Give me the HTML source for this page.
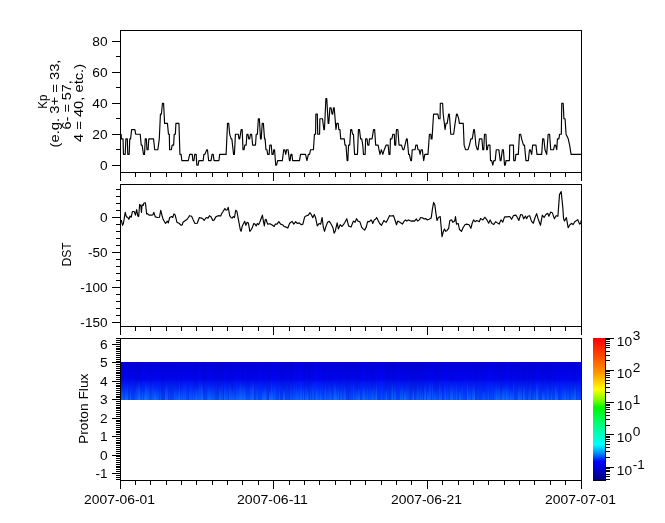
<!DOCTYPE html>
<html><head><meta charset="utf-8"><style>
html,body{margin:0;padding:0;background:#fff;width:665px;height:523px;overflow:hidden}
svg{display:block;will-change:transform}
text{font-family:"Liberation Sans",sans-serif}
</style></head><body>
<svg width="665" height="523" viewBox="0 0 665 523">
<defs>
<linearGradient id="cbg" x1="0" y1="0" x2="0" y2="1">
<stop offset="0" stop-color="#ff0000"/>
<stop offset="0.12" stop-color="#ff4400"/>
<stop offset="0.25" stop-color="#ff9900"/>
<stop offset="0.36" stop-color="#ffff00"/>
<stop offset="0.43" stop-color="#88ff00"/>
<stop offset="0.49" stop-color="#00f800"/>
<stop offset="0.62" stop-color="#00ff88"/>
<stop offset="0.75" stop-color="#00ffff"/>
<stop offset="0.81" stop-color="#0090ff"/>
<stop offset="0.87" stop-color="#0000ff"/>
<stop offset="1" stop-color="#000080"/>
</linearGradient>
<linearGradient id="bandg" x1="0" y1="0" x2="0" y2="1">
<stop offset="0" stop-color="#0000e0"/>
<stop offset="0.45" stop-color="#0006f2"/>
<stop offset="0.55" stop-color="#0018f8"/>
<stop offset="1" stop-color="#0048ff"/>
</linearGradient>
<linearGradient id="bandh" x1="0" y1="0" x2="0" y2="1">
<stop offset="0" stop-color="#0040ff" stop-opacity="0"/>
<stop offset="0.5" stop-color="#1070ff" stop-opacity="0.7"/>
<stop offset="1" stop-color="#2090ff"/>
</linearGradient>
</defs>
<rect width="665" height="523" fill="#fff"/>
<g shape-rendering="crispEdges">
<rect x="121" y="362" width="460" height="38" fill="url(#bandg)"/><rect x="121" y="362" width="2" height="38" fill="#000070" opacity="0.12"/><rect x="123" y="362" width="2" height="38" fill="#000070" opacity="0.06"/><rect x="125" y="362" width="2" height="38" fill="#000070" opacity="0.03"/><rect x="127" y="362" width="2" height="38" fill="#000070" opacity="0.07"/><rect x="129" y="362" width="2" height="38" fill="#000070" opacity="0.11"/><rect x="131" y="362" width="1" height="38" fill="#000070" opacity="0.06"/><rect x="132" y="362" width="1" height="38" fill="#000070" opacity="0.01"/><rect x="133" y="362" width="3" height="38" fill="#000070" opacity="0.09"/><rect x="136" y="362" width="2" height="38" fill="#000070" opacity="0.14"/><rect x="138" y="362" width="2" height="38" fill="#000070" opacity="0.09"/><rect x="140" y="362" width="2" height="38" fill="#000070" opacity="0.09"/><rect x="142" y="362" width="2" height="38" fill="#000070" opacity="0.00"/><rect x="144" y="362" width="2" height="38" fill="#000070" opacity="0.01"/><rect x="146" y="362" width="1" height="38" fill="#000070" opacity="0.03"/><rect x="147" y="362" width="1" height="38" fill="#000070" opacity="0.08"/><rect x="148" y="362" width="2" height="38" fill="#000070" opacity="0.05"/><rect x="150" y="362" width="2" height="38" fill="#000070" opacity="0.12"/><rect x="152" y="362" width="2" height="38" fill="#000070" opacity="0.03"/><rect x="154" y="362" width="1" height="38" fill="#000070" opacity="0.07"/><rect x="155" y="362" width="3" height="38" fill="#000070" opacity="0.01"/><rect x="158" y="362" width="3" height="38" fill="#000070" opacity="0.04"/><rect x="161" y="362" width="2" height="38" fill="#000070" opacity="0.14"/><rect x="163" y="362" width="1" height="38" fill="#000070" opacity="0.10"/><rect x="164" y="362" width="1" height="38" fill="#000070" opacity="0.11"/><rect x="165" y="362" width="2" height="38" fill="#000070" opacity="0.04"/><rect x="167" y="362" width="1" height="38" fill="#000070" opacity="0.08"/><rect x="168" y="362" width="1" height="38" fill="#000070" opacity="0.06"/><rect x="169" y="362" width="1" height="38" fill="#000070" opacity="0.05"/><rect x="170" y="362" width="1" height="38" fill="#000070" opacity="0.12"/><rect x="171" y="362" width="1" height="38" fill="#000070" opacity="0.03"/><rect x="172" y="362" width="1" height="38" fill="#000070" opacity="0.07"/><rect x="173" y="362" width="3" height="38" fill="#000070" opacity="0.06"/><rect x="176" y="362" width="1" height="38" fill="#000070" opacity="0.08"/><rect x="177" y="362" width="1" height="38" fill="#000070" opacity="0.11"/><rect x="178" y="362" width="1" height="38" fill="#000070" opacity="0.05"/><rect x="179" y="362" width="1" height="38" fill="#000070" opacity="0.05"/><rect x="180" y="362" width="2" height="38" fill="#000070" opacity="0.11"/><rect x="182" y="362" width="1" height="38" fill="#000070" opacity="0.02"/><rect x="183" y="362" width="3" height="38" fill="#000070" opacity="0.01"/><rect x="186" y="362" width="1" height="38" fill="#000070" opacity="0.07"/><rect x="187" y="362" width="2" height="38" fill="#000070" opacity="0.02"/><rect x="189" y="362" width="2" height="38" fill="#000070" opacity="0.03"/><rect x="191" y="362" width="2" height="38" fill="#000070" opacity="0.03"/><rect x="193" y="362" width="3" height="38" fill="#000070" opacity="0.11"/><rect x="196" y="362" width="2" height="38" fill="#000070" opacity="0.09"/><rect x="198" y="362" width="1" height="38" fill="#000070" opacity="0.06"/><rect x="199" y="362" width="1" height="38" fill="#000070" opacity="0.00"/><rect x="200" y="362" width="2" height="38" fill="#000070" opacity="0.04"/><rect x="202" y="362" width="1" height="38" fill="#000070" opacity="0.03"/><rect x="203" y="362" width="2" height="38" fill="#000070" opacity="0.14"/><rect x="205" y="362" width="2" height="38" fill="#000070" opacity="0.09"/><rect x="207" y="362" width="1" height="38" fill="#000070" opacity="0.01"/><rect x="208" y="362" width="1" height="38" fill="#000070" opacity="0.03"/><rect x="209" y="362" width="1" height="38" fill="#000070" opacity="0.00"/><rect x="210" y="362" width="2" height="38" fill="#000070" opacity="0.05"/><rect x="212" y="362" width="1" height="38" fill="#000070" opacity="0.05"/><rect x="213" y="362" width="1" height="38" fill="#000070" opacity="0.01"/><rect x="214" y="362" width="2" height="38" fill="#000070" opacity="0.09"/><rect x="216" y="362" width="1" height="38" fill="#000070" opacity="0.08"/><rect x="217" y="362" width="1" height="38" fill="#000070" opacity="0.09"/><rect x="218" y="362" width="1" height="38" fill="#000070" opacity="0.13"/><rect x="219" y="362" width="2" height="38" fill="#000070" opacity="0.12"/><rect x="221" y="362" width="1" height="38" fill="#000070" opacity="0.12"/><rect x="222" y="362" width="1" height="38" fill="#000070" opacity="0.09"/><rect x="223" y="362" width="1" height="38" fill="#000070" opacity="0.13"/><rect x="224" y="362" width="2" height="38" fill="#000070" opacity="0.03"/><rect x="226" y="362" width="1" height="38" fill="#000070" opacity="0.02"/><rect x="227" y="362" width="3" height="38" fill="#000070" opacity="0.13"/><rect x="230" y="362" width="1" height="38" fill="#000070" opacity="0.10"/><rect x="231" y="362" width="2" height="38" fill="#000070" opacity="0.12"/><rect x="233" y="362" width="2" height="38" fill="#000070" opacity="0.01"/><rect x="235" y="362" width="1" height="38" fill="#000070" opacity="0.01"/><rect x="236" y="362" width="1" height="38" fill="#000070" opacity="0.07"/><rect x="237" y="362" width="1" height="38" fill="#000070" opacity="0.03"/><rect x="238" y="362" width="3" height="38" fill="#000070" opacity="0.05"/><rect x="241" y="362" width="2" height="38" fill="#000070" opacity="0.12"/><rect x="243" y="362" width="2" height="38" fill="#000070" opacity="0.07"/><rect x="245" y="362" width="2" height="38" fill="#000070" opacity="0.02"/><rect x="247" y="362" width="3" height="38" fill="#000070" opacity="0.14"/><rect x="250" y="362" width="1" height="38" fill="#000070" opacity="0.03"/><rect x="251" y="362" width="2" height="38" fill="#000070" opacity="0.09"/><rect x="253" y="362" width="2" height="38" fill="#000070" opacity="0.09"/><rect x="255" y="362" width="1" height="38" fill="#000070" opacity="0.03"/><rect x="256" y="362" width="1" height="38" fill="#000070" opacity="0.10"/><rect x="257" y="362" width="1" height="38" fill="#000070" opacity="0.04"/><rect x="258" y="362" width="2" height="38" fill="#000070" opacity="0.03"/><rect x="260" y="362" width="1" height="38" fill="#000070" opacity="0.02"/><rect x="261" y="362" width="1" height="38" fill="#000070" opacity="0.07"/><rect x="262" y="362" width="1" height="38" fill="#000070" opacity="0.01"/><rect x="263" y="362" width="1" height="38" fill="#000070" opacity="0.12"/><rect x="264" y="362" width="1" height="38" fill="#000070" opacity="0.09"/><rect x="265" y="362" width="3" height="38" fill="#000070" opacity="0.07"/><rect x="268" y="362" width="1" height="38" fill="#000070" opacity="0.08"/><rect x="269" y="362" width="1" height="38" fill="#000070" opacity="0.07"/><rect x="270" y="362" width="1" height="38" fill="#000070" opacity="0.10"/><rect x="271" y="362" width="1" height="38" fill="#000070" opacity="0.00"/><rect x="272" y="362" width="3" height="38" fill="#000070" opacity="0.01"/><rect x="275" y="362" width="1" height="38" fill="#000070" opacity="0.10"/><rect x="276" y="362" width="1" height="38" fill="#000070" opacity="0.02"/><rect x="277" y="362" width="1" height="38" fill="#000070" opacity="0.01"/><rect x="278" y="362" width="2" height="38" fill="#000070" opacity="0.05"/><rect x="280" y="362" width="1" height="38" fill="#000070" opacity="0.13"/><rect x="281" y="362" width="3" height="38" fill="#000070" opacity="0.10"/><rect x="284" y="362" width="1" height="38" fill="#000070" opacity="0.11"/><rect x="285" y="362" width="1" height="38" fill="#000070" opacity="0.05"/><rect x="286" y="362" width="3" height="38" fill="#000070" opacity="0.07"/><rect x="289" y="362" width="1" height="38" fill="#000070" opacity="0.12"/><rect x="290" y="362" width="2" height="38" fill="#000070" opacity="0.13"/><rect x="292" y="362" width="1" height="38" fill="#000070" opacity="0.12"/><rect x="293" y="362" width="2" height="38" fill="#000070" opacity="0.00"/><rect x="295" y="362" width="3" height="38" fill="#000070" opacity="0.05"/><rect x="298" y="362" width="2" height="38" fill="#000070" opacity="0.00"/><rect x="300" y="362" width="1" height="38" fill="#000070" opacity="0.01"/><rect x="301" y="362" width="3" height="38" fill="#000070" opacity="0.02"/><rect x="304" y="362" width="1" height="38" fill="#000070" opacity="0.12"/><rect x="305" y="362" width="3" height="38" fill="#000070" opacity="0.05"/><rect x="308" y="362" width="3" height="38" fill="#000070" opacity="0.10"/><rect x="311" y="362" width="2" height="38" fill="#000070" opacity="0.06"/><rect x="313" y="362" width="2" height="38" fill="#000070" opacity="0.01"/><rect x="315" y="362" width="2" height="38" fill="#000070" opacity="0.00"/><rect x="317" y="362" width="2" height="38" fill="#000070" opacity="0.01"/><rect x="319" y="362" width="1" height="38" fill="#000070" opacity="0.03"/><rect x="320" y="362" width="3" height="38" fill="#000070" opacity="0.02"/><rect x="323" y="362" width="2" height="38" fill="#000070" opacity="0.09"/><rect x="325" y="362" width="2" height="38" fill="#000070" opacity="0.04"/><rect x="327" y="362" width="1" height="38" fill="#000070" opacity="0.05"/><rect x="328" y="362" width="1" height="38" fill="#000070" opacity="0.09"/><rect x="329" y="362" width="1" height="38" fill="#000070" opacity="0.07"/><rect x="330" y="362" width="1" height="38" fill="#000070" opacity="0.09"/><rect x="331" y="362" width="2" height="38" fill="#000070" opacity="0.07"/><rect x="333" y="362" width="1" height="38" fill="#000070" opacity="0.05"/><rect x="334" y="362" width="3" height="38" fill="#000070" opacity="0.04"/><rect x="337" y="362" width="3" height="38" fill="#000070" opacity="0.06"/><rect x="340" y="362" width="1" height="38" fill="#000070" opacity="0.12"/><rect x="341" y="362" width="2" height="38" fill="#000070" opacity="0.03"/><rect x="343" y="362" width="1" height="38" fill="#000070" opacity="0.03"/><rect x="344" y="362" width="1" height="38" fill="#000070" opacity="0.07"/><rect x="345" y="362" width="1" height="38" fill="#000070" opacity="0.10"/><rect x="346" y="362" width="1" height="38" fill="#000070" opacity="0.12"/><rect x="347" y="362" width="1" height="38" fill="#000070" opacity="0.06"/><rect x="348" y="362" width="1" height="38" fill="#000070" opacity="0.13"/><rect x="349" y="362" width="2" height="38" fill="#000070" opacity="0.05"/><rect x="351" y="362" width="2" height="38" fill="#000070" opacity="0.07"/><rect x="353" y="362" width="1" height="38" fill="#000070" opacity="0.10"/><rect x="354" y="362" width="2" height="38" fill="#000070" opacity="0.06"/><rect x="356" y="362" width="1" height="38" fill="#000070" opacity="0.12"/><rect x="357" y="362" width="1" height="38" fill="#000070" opacity="0.12"/><rect x="358" y="362" width="1" height="38" fill="#000070" opacity="0.09"/><rect x="359" y="362" width="1" height="38" fill="#000070" opacity="0.08"/><rect x="360" y="362" width="1" height="38" fill="#000070" opacity="0.09"/><rect x="361" y="362" width="2" height="38" fill="#000070" opacity="0.00"/><rect x="363" y="362" width="1" height="38" fill="#000070" opacity="0.06"/><rect x="364" y="362" width="1" height="38" fill="#000070" opacity="0.00"/><rect x="365" y="362" width="1" height="38" fill="#000070" opacity="0.03"/><rect x="366" y="362" width="1" height="38" fill="#000070" opacity="0.11"/><rect x="367" y="362" width="3" height="38" fill="#000070" opacity="0.02"/><rect x="370" y="362" width="1" height="38" fill="#000070" opacity="0.09"/><rect x="371" y="362" width="3" height="38" fill="#000070" opacity="0.09"/><rect x="374" y="362" width="1" height="38" fill="#000070" opacity="0.13"/><rect x="375" y="362" width="3" height="38" fill="#000070" opacity="0.03"/><rect x="378" y="362" width="2" height="38" fill="#000070" opacity="0.04"/><rect x="380" y="362" width="3" height="38" fill="#000070" opacity="0.00"/><rect x="383" y="362" width="2" height="38" fill="#000070" opacity="0.07"/><rect x="385" y="362" width="1" height="38" fill="#000070" opacity="0.03"/><rect x="386" y="362" width="1" height="38" fill="#000070" opacity="0.11"/><rect x="387" y="362" width="2" height="38" fill="#000070" opacity="0.10"/><rect x="389" y="362" width="2" height="38" fill="#000070" opacity="0.07"/><rect x="391" y="362" width="1" height="38" fill="#000070" opacity="0.06"/><rect x="392" y="362" width="3" height="38" fill="#000070" opacity="0.13"/><rect x="395" y="362" width="1" height="38" fill="#000070" opacity="0.06"/><rect x="396" y="362" width="3" height="38" fill="#000070" opacity="0.05"/><rect x="399" y="362" width="2" height="38" fill="#000070" opacity="0.06"/><rect x="401" y="362" width="3" height="38" fill="#000070" opacity="0.12"/><rect x="404" y="362" width="1" height="38" fill="#000070" opacity="0.05"/><rect x="405" y="362" width="2" height="38" fill="#000070" opacity="0.09"/><rect x="407" y="362" width="2" height="38" fill="#000070" opacity="0.11"/><rect x="409" y="362" width="1" height="38" fill="#000070" opacity="0.06"/><rect x="410" y="362" width="3" height="38" fill="#000070" opacity="0.14"/><rect x="413" y="362" width="1" height="38" fill="#000070" opacity="0.10"/><rect x="414" y="362" width="3" height="38" fill="#000070" opacity="0.13"/><rect x="417" y="362" width="1" height="38" fill="#000070" opacity="0.03"/><rect x="418" y="362" width="2" height="38" fill="#000070" opacity="0.14"/><rect x="420" y="362" width="1" height="38" fill="#000070" opacity="0.08"/><rect x="421" y="362" width="1" height="38" fill="#000070" opacity="0.04"/><rect x="422" y="362" width="3" height="38" fill="#000070" opacity="0.12"/><rect x="425" y="362" width="1" height="38" fill="#000070" opacity="0.07"/><rect x="426" y="362" width="1" height="38" fill="#000070" opacity="0.06"/><rect x="427" y="362" width="2" height="38" fill="#000070" opacity="0.06"/><rect x="429" y="362" width="1" height="38" fill="#000070" opacity="0.07"/><rect x="430" y="362" width="1" height="38" fill="#000070" opacity="0.03"/><rect x="431" y="362" width="1" height="38" fill="#000070" opacity="0.06"/><rect x="432" y="362" width="1" height="38" fill="#000070" opacity="0.02"/><rect x="433" y="362" width="1" height="38" fill="#000070" opacity="0.10"/><rect x="434" y="362" width="1" height="38" fill="#000070" opacity="0.07"/><rect x="435" y="362" width="2" height="38" fill="#000070" opacity="0.13"/><rect x="437" y="362" width="2" height="38" fill="#000070" opacity="0.12"/><rect x="439" y="362" width="3" height="38" fill="#000070" opacity="0.06"/><rect x="442" y="362" width="2" height="38" fill="#000070" opacity="0.08"/><rect x="444" y="362" width="3" height="38" fill="#000070" opacity="0.01"/><rect x="447" y="362" width="1" height="38" fill="#000070" opacity="0.06"/><rect x="448" y="362" width="2" height="38" fill="#000070" opacity="0.04"/><rect x="450" y="362" width="3" height="38" fill="#000070" opacity="0.08"/><rect x="453" y="362" width="1" height="38" fill="#000070" opacity="0.07"/><rect x="454" y="362" width="2" height="38" fill="#000070" opacity="0.04"/><rect x="456" y="362" width="3" height="38" fill="#000070" opacity="0.05"/><rect x="459" y="362" width="2" height="38" fill="#000070" opacity="0.03"/><rect x="461" y="362" width="1" height="38" fill="#000070" opacity="0.14"/><rect x="462" y="362" width="2" height="38" fill="#000070" opacity="0.04"/><rect x="464" y="362" width="2" height="38" fill="#000070" opacity="0.03"/><rect x="466" y="362" width="2" height="38" fill="#000070" opacity="0.02"/><rect x="468" y="362" width="1" height="38" fill="#000070" opacity="0.08"/><rect x="469" y="362" width="1" height="38" fill="#000070" opacity="0.08"/><rect x="470" y="362" width="1" height="38" fill="#000070" opacity="0.07"/><rect x="471" y="362" width="2" height="38" fill="#000070" opacity="0.08"/><rect x="473" y="362" width="2" height="38" fill="#000070" opacity="0.02"/><rect x="475" y="362" width="1" height="38" fill="#000070" opacity="0.10"/><rect x="476" y="362" width="1" height="38" fill="#000070" opacity="0.13"/><rect x="477" y="362" width="2" height="38" fill="#000070" opacity="0.06"/><rect x="479" y="362" width="2" height="38" fill="#000070" opacity="0.04"/><rect x="481" y="362" width="2" height="38" fill="#000070" opacity="0.07"/><rect x="483" y="362" width="1" height="38" fill="#000070" opacity="0.06"/><rect x="484" y="362" width="2" height="38" fill="#000070" opacity="0.07"/><rect x="486" y="362" width="1" height="38" fill="#000070" opacity="0.03"/><rect x="487" y="362" width="2" height="38" fill="#000070" opacity="0.00"/><rect x="489" y="362" width="1" height="38" fill="#000070" opacity="0.02"/><rect x="490" y="362" width="1" height="38" fill="#000070" opacity="0.00"/><rect x="491" y="362" width="1" height="38" fill="#000070" opacity="0.03"/><rect x="492" y="362" width="3" height="38" fill="#000070" opacity="0.04"/><rect x="495" y="362" width="3" height="38" fill="#000070" opacity="0.05"/><rect x="498" y="362" width="2" height="38" fill="#000070" opacity="0.07"/><rect x="500" y="362" width="2" height="38" fill="#000070" opacity="0.10"/><rect x="502" y="362" width="1" height="38" fill="#000070" opacity="0.12"/><rect x="503" y="362" width="2" height="38" fill="#000070" opacity="0.04"/><rect x="505" y="362" width="1" height="38" fill="#000070" opacity="0.10"/><rect x="506" y="362" width="2" height="38" fill="#000070" opacity="0.00"/><rect x="508" y="362" width="3" height="38" fill="#000070" opacity="0.06"/><rect x="511" y="362" width="2" height="38" fill="#000070" opacity="0.09"/><rect x="513" y="362" width="2" height="38" fill="#000070" opacity="0.03"/><rect x="515" y="362" width="3" height="38" fill="#000070" opacity="0.07"/><rect x="518" y="362" width="1" height="38" fill="#000070" opacity="0.07"/><rect x="519" y="362" width="2" height="38" fill="#000070" opacity="0.09"/><rect x="521" y="362" width="1" height="38" fill="#000070" opacity="0.03"/><rect x="522" y="362" width="3" height="38" fill="#000070" opacity="0.09"/><rect x="525" y="362" width="1" height="38" fill="#000070" opacity="0.13"/><rect x="526" y="362" width="1" height="38" fill="#000070" opacity="0.08"/><rect x="527" y="362" width="1" height="38" fill="#000070" opacity="0.03"/><rect x="528" y="362" width="1" height="38" fill="#000070" opacity="0.12"/><rect x="529" y="362" width="1" height="38" fill="#000070" opacity="0.12"/><rect x="530" y="362" width="1" height="38" fill="#000070" opacity="0.10"/><rect x="531" y="362" width="1" height="38" fill="#000070" opacity="0.05"/><rect x="532" y="362" width="2" height="38" fill="#000070" opacity="0.12"/><rect x="534" y="362" width="2" height="38" fill="#000070" opacity="0.08"/><rect x="536" y="362" width="3" height="38" fill="#000070" opacity="0.02"/><rect x="539" y="362" width="2" height="38" fill="#000070" opacity="0.09"/><rect x="541" y="362" width="1" height="38" fill="#000070" opacity="0.01"/><rect x="542" y="362" width="2" height="38" fill="#000070" opacity="0.10"/><rect x="544" y="362" width="1" height="38" fill="#000070" opacity="0.02"/><rect x="545" y="362" width="2" height="38" fill="#000070" opacity="0.09"/><rect x="547" y="362" width="1" height="38" fill="#000070" opacity="0.07"/><rect x="548" y="362" width="3" height="38" fill="#000070" opacity="0.12"/><rect x="551" y="362" width="1" height="38" fill="#000070" opacity="0.07"/><rect x="552" y="362" width="1" height="38" fill="#000070" opacity="0.01"/><rect x="553" y="362" width="2" height="38" fill="#000070" opacity="0.09"/><rect x="555" y="362" width="2" height="38" fill="#000070" opacity="0.07"/><rect x="557" y="362" width="1" height="38" fill="#000070" opacity="0.03"/><rect x="558" y="362" width="1" height="38" fill="#000070" opacity="0.02"/><rect x="559" y="362" width="1" height="38" fill="#000070" opacity="0.14"/><rect x="560" y="362" width="3" height="38" fill="#000070" opacity="0.01"/><rect x="563" y="362" width="1" height="38" fill="#000070" opacity="0.02"/><rect x="564" y="362" width="3" height="38" fill="#000070" opacity="0.06"/><rect x="567" y="362" width="1" height="38" fill="#000070" opacity="0.05"/><rect x="568" y="362" width="2" height="38" fill="#000070" opacity="0.06"/><rect x="570" y="362" width="1" height="38" fill="#000070" opacity="0.06"/><rect x="571" y="362" width="2" height="38" fill="#000070" opacity="0.05"/><rect x="573" y="362" width="3" height="38" fill="#000070" opacity="0.10"/><rect x="576" y="362" width="1" height="38" fill="#000070" opacity="0.03"/><rect x="577" y="362" width="2" height="38" fill="#000070" opacity="0.05"/><rect x="579" y="362" width="1" height="38" fill="#000070" opacity="0.06"/><rect x="580" y="362" width="1" height="38" fill="#000070" opacity="0.08"/><rect x="121" y="380" width="1" height="20" fill="url(#bandh)" opacity="0.31"/><rect x="122" y="386" width="1" height="14" fill="url(#bandh)" opacity="0.54"/><rect x="123" y="385" width="1" height="15" fill="url(#bandh)" opacity="0.30"/><rect x="124" y="381" width="1" height="19" fill="url(#bandh)" opacity="0.17"/><rect x="125" y="386" width="1" height="14" fill="url(#bandh)" opacity="0.49"/><rect x="126" y="388" width="1" height="12" fill="url(#bandh)" opacity="0.54"/><rect x="127" y="382" width="1" height="18" fill="url(#bandh)" opacity="0.46"/><rect x="128" y="382" width="2" height="18" fill="url(#bandh)" opacity="0.12"/><rect x="130" y="384" width="1" height="16" fill="url(#bandh)" opacity="0.48"/><rect x="131" y="385" width="2" height="15" fill="url(#bandh)" opacity="0.06"/><rect x="133" y="384" width="1" height="16" fill="url(#bandh)" opacity="0.14"/><rect x="134" y="386" width="1" height="14" fill="url(#bandh)" opacity="0.13"/><rect x="135" y="386" width="1" height="14" fill="url(#bandh)" opacity="0.32"/><rect x="136" y="381" width="2" height="19" fill="url(#bandh)" opacity="0.39"/><rect x="138" y="380" width="2" height="20" fill="url(#bandh)" opacity="0.59"/><rect x="140" y="383" width="1" height="17" fill="url(#bandh)" opacity="0.37"/><rect x="141" y="388" width="1" height="12" fill="url(#bandh)" opacity="0.27"/><rect x="142" y="386" width="1" height="14" fill="url(#bandh)" opacity="0.46"/><rect x="143" y="384" width="1" height="16" fill="url(#bandh)" opacity="0.06"/><rect x="144" y="388" width="1" height="12" fill="url(#bandh)" opacity="0.54"/><rect x="145" y="381" width="2" height="19" fill="url(#bandh)" opacity="0.58"/><rect x="147" y="381" width="2" height="19" fill="url(#bandh)" opacity="0.49"/><rect x="149" y="382" width="1" height="18" fill="url(#bandh)" opacity="0.23"/><rect x="150" y="382" width="2" height="18" fill="url(#bandh)" opacity="0.28"/><rect x="152" y="380" width="2" height="20" fill="url(#bandh)" opacity="0.33"/><rect x="154" y="386" width="2" height="14" fill="url(#bandh)" opacity="0.57"/><rect x="156" y="384" width="1" height="16" fill="url(#bandh)" opacity="0.32"/><rect x="157" y="387" width="1" height="13" fill="url(#bandh)" opacity="0.32"/><rect x="158" y="384" width="1" height="16" fill="url(#bandh)" opacity="0.34"/><rect x="159" y="383" width="1" height="17" fill="url(#bandh)" opacity="0.02"/><rect x="160" y="386" width="1" height="14" fill="url(#bandh)" opacity="0.38"/><rect x="161" y="385" width="2" height="15" fill="url(#bandh)" opacity="0.03"/><rect x="163" y="385" width="2" height="15" fill="url(#bandh)" opacity="0.03"/><rect x="165" y="383" width="1" height="17" fill="url(#bandh)" opacity="0.48"/><rect x="166" y="384" width="2" height="16" fill="url(#bandh)" opacity="0.43"/><rect x="168" y="381" width="1" height="19" fill="url(#bandh)" opacity="0.03"/><rect x="169" y="383" width="2" height="17" fill="url(#bandh)" opacity="0.09"/><rect x="171" y="386" width="1" height="14" fill="url(#bandh)" opacity="0.03"/><rect x="172" y="380" width="2" height="20" fill="url(#bandh)" opacity="0.07"/><rect x="174" y="381" width="1" height="19" fill="url(#bandh)" opacity="0.32"/><rect x="175" y="386" width="1" height="14" fill="url(#bandh)" opacity="0.27"/><rect x="176" y="386" width="2" height="14" fill="url(#bandh)" opacity="0.36"/><rect x="178" y="388" width="1" height="12" fill="url(#bandh)" opacity="0.47"/><rect x="179" y="382" width="1" height="18" fill="url(#bandh)" opacity="0.57"/><rect x="180" y="388" width="1" height="12" fill="url(#bandh)" opacity="0.29"/><rect x="181" y="385" width="1" height="15" fill="url(#bandh)" opacity="0.47"/><rect x="182" y="383" width="1" height="17" fill="url(#bandh)" opacity="0.16"/><rect x="183" y="383" width="1" height="17" fill="url(#bandh)" opacity="0.45"/><rect x="184" y="383" width="1" height="17" fill="url(#bandh)" opacity="0.30"/><rect x="185" y="380" width="1" height="20" fill="url(#bandh)" opacity="0.38"/><rect x="186" y="380" width="1" height="20" fill="url(#bandh)" opacity="0.16"/><rect x="187" y="388" width="1" height="12" fill="url(#bandh)" opacity="0.06"/><rect x="188" y="381" width="1" height="19" fill="url(#bandh)" opacity="0.04"/><rect x="189" y="385" width="1" height="15" fill="url(#bandh)" opacity="0.33"/><rect x="190" y="383" width="2" height="17" fill="url(#bandh)" opacity="0.29"/><rect x="192" y="382" width="1" height="18" fill="url(#bandh)" opacity="0.21"/><rect x="193" y="387" width="1" height="13" fill="url(#bandh)" opacity="0.48"/><rect x="194" y="384" width="1" height="16" fill="url(#bandh)" opacity="0.27"/><rect x="195" y="385" width="2" height="15" fill="url(#bandh)" opacity="0.49"/><rect x="197" y="385" width="1" height="15" fill="url(#bandh)" opacity="0.39"/><rect x="198" y="382" width="1" height="18" fill="url(#bandh)" opacity="0.33"/><rect x="199" y="381" width="2" height="19" fill="url(#bandh)" opacity="0.39"/><rect x="201" y="381" width="2" height="19" fill="url(#bandh)" opacity="0.53"/><rect x="203" y="387" width="1" height="13" fill="url(#bandh)" opacity="0.26"/><rect x="204" y="380" width="2" height="20" fill="url(#bandh)" opacity="0.18"/><rect x="206" y="381" width="1" height="19" fill="url(#bandh)" opacity="0.19"/><rect x="207" y="385" width="1" height="15" fill="url(#bandh)" opacity="0.30"/><rect x="208" y="383" width="1" height="17" fill="url(#bandh)" opacity="0.53"/><rect x="209" y="385" width="1" height="15" fill="url(#bandh)" opacity="0.39"/><rect x="210" y="385" width="1" height="15" fill="url(#bandh)" opacity="0.54"/><rect x="211" y="384" width="2" height="16" fill="url(#bandh)" opacity="0.34"/><rect x="213" y="384" width="2" height="16" fill="url(#bandh)" opacity="0.32"/><rect x="215" y="386" width="2" height="14" fill="url(#bandh)" opacity="0.19"/><rect x="217" y="385" width="1" height="15" fill="url(#bandh)" opacity="0.05"/><rect x="218" y="386" width="1" height="14" fill="url(#bandh)" opacity="0.22"/><rect x="219" y="385" width="2" height="15" fill="url(#bandh)" opacity="0.48"/><rect x="221" y="382" width="2" height="18" fill="url(#bandh)" opacity="0.32"/><rect x="223" y="387" width="1" height="13" fill="url(#bandh)" opacity="0.05"/><rect x="224" y="383" width="1" height="17" fill="url(#bandh)" opacity="0.49"/><rect x="225" y="384" width="1" height="16" fill="url(#bandh)" opacity="0.33"/><rect x="226" y="386" width="1" height="14" fill="url(#bandh)" opacity="0.39"/><rect x="227" y="384" width="1" height="16" fill="url(#bandh)" opacity="0.35"/><rect x="228" y="384" width="1" height="16" fill="url(#bandh)" opacity="0.20"/><rect x="229" y="381" width="1" height="19" fill="url(#bandh)" opacity="0.54"/><rect x="230" y="382" width="1" height="18" fill="url(#bandh)" opacity="0.38"/><rect x="231" y="386" width="1" height="14" fill="url(#bandh)" opacity="0.45"/><rect x="232" y="387" width="1" height="13" fill="url(#bandh)" opacity="0.43"/><rect x="233" y="386" width="1" height="14" fill="url(#bandh)" opacity="0.46"/><rect x="234" y="385" width="1" height="15" fill="url(#bandh)" opacity="0.20"/><rect x="235" y="388" width="1" height="12" fill="url(#bandh)" opacity="0.30"/><rect x="236" y="380" width="1" height="20" fill="url(#bandh)" opacity="0.42"/><rect x="237" y="385" width="2" height="15" fill="url(#bandh)" opacity="0.45"/><rect x="239" y="381" width="1" height="19" fill="url(#bandh)" opacity="0.48"/><rect x="240" y="380" width="2" height="20" fill="url(#bandh)" opacity="0.57"/><rect x="242" y="381" width="1" height="19" fill="url(#bandh)" opacity="0.43"/><rect x="243" y="382" width="2" height="18" fill="url(#bandh)" opacity="0.55"/><rect x="245" y="386" width="1" height="14" fill="url(#bandh)" opacity="0.44"/><rect x="246" y="386" width="1" height="14" fill="url(#bandh)" opacity="0.19"/><rect x="247" y="384" width="2" height="16" fill="url(#bandh)" opacity="0.32"/><rect x="249" y="381" width="1" height="19" fill="url(#bandh)" opacity="0.28"/><rect x="250" y="382" width="1" height="18" fill="url(#bandh)" opacity="0.39"/><rect x="251" y="380" width="1" height="20" fill="url(#bandh)" opacity="0.45"/><rect x="252" y="380" width="2" height="20" fill="url(#bandh)" opacity="0.55"/><rect x="254" y="382" width="1" height="18" fill="url(#bandh)" opacity="0.07"/><rect x="255" y="383" width="1" height="17" fill="url(#bandh)" opacity="0.13"/><rect x="256" y="383" width="2" height="17" fill="url(#bandh)" opacity="0.36"/><rect x="258" y="384" width="2" height="16" fill="url(#bandh)" opacity="0.11"/><rect x="260" y="384" width="2" height="16" fill="url(#bandh)" opacity="0.10"/><rect x="262" y="387" width="2" height="13" fill="url(#bandh)" opacity="0.51"/><rect x="264" y="385" width="2" height="15" fill="url(#bandh)" opacity="0.55"/><rect x="266" y="383" width="1" height="17" fill="url(#bandh)" opacity="0.29"/><rect x="267" y="382" width="2" height="18" fill="url(#bandh)" opacity="0.03"/><rect x="269" y="388" width="2" height="12" fill="url(#bandh)" opacity="0.59"/><rect x="271" y="380" width="1" height="20" fill="url(#bandh)" opacity="0.47"/><rect x="272" y="387" width="1" height="13" fill="url(#bandh)" opacity="0.54"/><rect x="273" y="383" width="1" height="17" fill="url(#bandh)" opacity="0.27"/><rect x="274" y="382" width="2" height="18" fill="url(#bandh)" opacity="0.36"/><rect x="276" y="385" width="2" height="15" fill="url(#bandh)" opacity="0.09"/><rect x="278" y="388" width="1" height="12" fill="url(#bandh)" opacity="0.16"/><rect x="279" y="384" width="1" height="16" fill="url(#bandh)" opacity="0.38"/><rect x="280" y="382" width="1" height="18" fill="url(#bandh)" opacity="0.09"/><rect x="281" y="382" width="1" height="18" fill="url(#bandh)" opacity="0.12"/><rect x="282" y="384" width="1" height="16" fill="url(#bandh)" opacity="0.05"/><rect x="283" y="387" width="1" height="13" fill="url(#bandh)" opacity="0.53"/><rect x="284" y="388" width="1" height="12" fill="url(#bandh)" opacity="0.57"/><rect x="285" y="383" width="1" height="17" fill="url(#bandh)" opacity="0.01"/><rect x="286" y="381" width="2" height="19" fill="url(#bandh)" opacity="0.12"/><rect x="288" y="388" width="2" height="12" fill="url(#bandh)" opacity="0.13"/><rect x="290" y="382" width="2" height="18" fill="url(#bandh)" opacity="0.32"/><rect x="292" y="386" width="1" height="14" fill="url(#bandh)" opacity="0.19"/><rect x="293" y="387" width="1" height="13" fill="url(#bandh)" opacity="0.33"/><rect x="294" y="382" width="1" height="18" fill="url(#bandh)" opacity="0.22"/><rect x="295" y="387" width="1" height="13" fill="url(#bandh)" opacity="0.40"/><rect x="296" y="380" width="1" height="20" fill="url(#bandh)" opacity="0.39"/><rect x="297" y="387" width="2" height="13" fill="url(#bandh)" opacity="0.43"/><rect x="299" y="381" width="1" height="19" fill="url(#bandh)" opacity="0.18"/><rect x="300" y="383" width="2" height="17" fill="url(#bandh)" opacity="0.46"/><rect x="302" y="386" width="1" height="14" fill="url(#bandh)" opacity="0.17"/><rect x="303" y="386" width="1" height="14" fill="url(#bandh)" opacity="0.57"/><rect x="304" y="383" width="1" height="17" fill="url(#bandh)" opacity="0.15"/><rect x="305" y="385" width="2" height="15" fill="url(#bandh)" opacity="0.44"/><rect x="307" y="387" width="1" height="13" fill="url(#bandh)" opacity="0.57"/><rect x="308" y="386" width="1" height="14" fill="url(#bandh)" opacity="0.27"/><rect x="309" y="381" width="1" height="19" fill="url(#bandh)" opacity="0.06"/><rect x="310" y="382" width="1" height="18" fill="url(#bandh)" opacity="0.41"/><rect x="311" y="380" width="1" height="20" fill="url(#bandh)" opacity="0.12"/><rect x="312" y="381" width="2" height="19" fill="url(#bandh)" opacity="0.36"/><rect x="314" y="382" width="1" height="18" fill="url(#bandh)" opacity="0.14"/><rect x="315" y="381" width="1" height="19" fill="url(#bandh)" opacity="0.26"/><rect x="316" y="386" width="1" height="14" fill="url(#bandh)" opacity="0.55"/><rect x="317" y="382" width="1" height="18" fill="url(#bandh)" opacity="0.39"/><rect x="318" y="386" width="2" height="14" fill="url(#bandh)" opacity="0.29"/><rect x="320" y="385" width="1" height="15" fill="url(#bandh)" opacity="0.44"/><rect x="321" y="388" width="1" height="12" fill="url(#bandh)" opacity="0.40"/><rect x="322" y="383" width="1" height="17" fill="url(#bandh)" opacity="0.16"/><rect x="323" y="387" width="1" height="13" fill="url(#bandh)" opacity="0.18"/><rect x="324" y="383" width="1" height="17" fill="url(#bandh)" opacity="0.33"/><rect x="325" y="381" width="1" height="19" fill="url(#bandh)" opacity="0.47"/><rect x="326" y="388" width="1" height="12" fill="url(#bandh)" opacity="0.15"/><rect x="327" y="385" width="1" height="15" fill="url(#bandh)" opacity="0.33"/><rect x="328" y="383" width="1" height="17" fill="url(#bandh)" opacity="0.34"/><rect x="329" y="380" width="1" height="20" fill="url(#bandh)" opacity="0.34"/><rect x="330" y="382" width="1" height="18" fill="url(#bandh)" opacity="0.47"/><rect x="331" y="386" width="1" height="14" fill="url(#bandh)" opacity="0.29"/><rect x="332" y="385" width="1" height="15" fill="url(#bandh)" opacity="0.20"/><rect x="333" y="381" width="1" height="19" fill="url(#bandh)" opacity="0.28"/><rect x="334" y="382" width="2" height="18" fill="url(#bandh)" opacity="0.58"/><rect x="336" y="388" width="1" height="12" fill="url(#bandh)" opacity="0.54"/><rect x="337" y="384" width="1" height="16" fill="url(#bandh)" opacity="0.34"/><rect x="338" y="385" width="1" height="15" fill="url(#bandh)" opacity="0.55"/><rect x="339" y="380" width="1" height="20" fill="url(#bandh)" opacity="0.07"/><rect x="340" y="385" width="1" height="15" fill="url(#bandh)" opacity="0.41"/><rect x="341" y="385" width="1" height="15" fill="url(#bandh)" opacity="0.45"/><rect x="342" y="388" width="1" height="12" fill="url(#bandh)" opacity="0.11"/><rect x="343" y="386" width="1" height="14" fill="url(#bandh)" opacity="0.27"/><rect x="344" y="382" width="1" height="18" fill="url(#bandh)" opacity="0.47"/><rect x="345" y="386" width="1" height="14" fill="url(#bandh)" opacity="0.45"/><rect x="346" y="386" width="1" height="14" fill="url(#bandh)" opacity="0.10"/><rect x="347" y="388" width="2" height="12" fill="url(#bandh)" opacity="0.02"/><rect x="349" y="386" width="2" height="14" fill="url(#bandh)" opacity="0.07"/><rect x="351" y="382" width="1" height="18" fill="url(#bandh)" opacity="0.20"/><rect x="352" y="385" width="1" height="15" fill="url(#bandh)" opacity="0.15"/><rect x="353" y="380" width="1" height="20" fill="url(#bandh)" opacity="0.39"/><rect x="354" y="387" width="1" height="13" fill="url(#bandh)" opacity="0.24"/><rect x="355" y="386" width="1" height="14" fill="url(#bandh)" opacity="0.28"/><rect x="356" y="387" width="2" height="13" fill="url(#bandh)" opacity="0.45"/><rect x="358" y="386" width="2" height="14" fill="url(#bandh)" opacity="0.50"/><rect x="360" y="381" width="2" height="19" fill="url(#bandh)" opacity="0.07"/><rect x="362" y="386" width="1" height="14" fill="url(#bandh)" opacity="0.32"/><rect x="363" y="385" width="2" height="15" fill="url(#bandh)" opacity="0.54"/><rect x="365" y="386" width="1" height="14" fill="url(#bandh)" opacity="0.18"/><rect x="366" y="384" width="2" height="16" fill="url(#bandh)" opacity="0.36"/><rect x="368" y="387" width="1" height="13" fill="url(#bandh)" opacity="0.15"/><rect x="369" y="386" width="1" height="14" fill="url(#bandh)" opacity="0.30"/><rect x="370" y="381" width="1" height="19" fill="url(#bandh)" opacity="0.29"/><rect x="371" y="386" width="1" height="14" fill="url(#bandh)" opacity="0.33"/><rect x="372" y="385" width="1" height="15" fill="url(#bandh)" opacity="0.53"/><rect x="373" y="382" width="2" height="18" fill="url(#bandh)" opacity="0.34"/><rect x="375" y="386" width="1" height="14" fill="url(#bandh)" opacity="0.39"/><rect x="376" y="381" width="1" height="19" fill="url(#bandh)" opacity="0.54"/><rect x="377" y="388" width="1" height="12" fill="url(#bandh)" opacity="0.07"/><rect x="378" y="383" width="2" height="17" fill="url(#bandh)" opacity="0.00"/><rect x="380" y="382" width="1" height="18" fill="url(#bandh)" opacity="0.01"/><rect x="381" y="387" width="1" height="13" fill="url(#bandh)" opacity="0.26"/><rect x="382" y="383" width="2" height="17" fill="url(#bandh)" opacity="0.08"/><rect x="384" y="387" width="1" height="13" fill="url(#bandh)" opacity="0.18"/><rect x="385" y="387" width="1" height="13" fill="url(#bandh)" opacity="0.18"/><rect x="386" y="387" width="1" height="13" fill="url(#bandh)" opacity="0.56"/><rect x="387" y="380" width="1" height="20" fill="url(#bandh)" opacity="0.12"/><rect x="388" y="385" width="1" height="15" fill="url(#bandh)" opacity="0.19"/><rect x="389" y="388" width="2" height="12" fill="url(#bandh)" opacity="0.01"/><rect x="391" y="383" width="1" height="17" fill="url(#bandh)" opacity="0.32"/><rect x="392" y="380" width="1" height="20" fill="url(#bandh)" opacity="0.57"/><rect x="393" y="385" width="1" height="15" fill="url(#bandh)" opacity="0.18"/><rect x="394" y="382" width="1" height="18" fill="url(#bandh)" opacity="0.52"/><rect x="395" y="387" width="1" height="13" fill="url(#bandh)" opacity="0.42"/><rect x="396" y="383" width="2" height="17" fill="url(#bandh)" opacity="0.05"/><rect x="398" y="383" width="1" height="17" fill="url(#bandh)" opacity="0.07"/><rect x="399" y="383" width="1" height="17" fill="url(#bandh)" opacity="0.11"/><rect x="400" y="385" width="1" height="15" fill="url(#bandh)" opacity="0.47"/><rect x="401" y="383" width="1" height="17" fill="url(#bandh)" opacity="0.35"/><rect x="402" y="382" width="1" height="18" fill="url(#bandh)" opacity="0.54"/><rect x="403" y="381" width="1" height="19" fill="url(#bandh)" opacity="0.17"/><rect x="404" y="387" width="2" height="13" fill="url(#bandh)" opacity="0.59"/><rect x="406" y="380" width="1" height="20" fill="url(#bandh)" opacity="0.32"/><rect x="407" y="384" width="1" height="16" fill="url(#bandh)" opacity="0.36"/><rect x="408" y="381" width="1" height="19" fill="url(#bandh)" opacity="0.25"/><rect x="409" y="383" width="1" height="17" fill="url(#bandh)" opacity="0.17"/><rect x="410" y="388" width="1" height="12" fill="url(#bandh)" opacity="0.11"/><rect x="411" y="382" width="1" height="18" fill="url(#bandh)" opacity="0.11"/><rect x="412" y="386" width="1" height="14" fill="url(#bandh)" opacity="0.37"/><rect x="413" y="387" width="1" height="13" fill="url(#bandh)" opacity="0.56"/><rect x="414" y="388" width="1" height="12" fill="url(#bandh)" opacity="0.11"/><rect x="415" y="387" width="1" height="13" fill="url(#bandh)" opacity="0.19"/><rect x="416" y="388" width="1" height="12" fill="url(#bandh)" opacity="0.31"/><rect x="417" y="382" width="1" height="18" fill="url(#bandh)" opacity="0.36"/><rect x="418" y="383" width="1" height="17" fill="url(#bandh)" opacity="0.36"/><rect x="419" y="384" width="2" height="16" fill="url(#bandh)" opacity="0.33"/><rect x="421" y="388" width="1" height="12" fill="url(#bandh)" opacity="0.16"/><rect x="422" y="387" width="1" height="13" fill="url(#bandh)" opacity="0.51"/><rect x="423" y="380" width="1" height="20" fill="url(#bandh)" opacity="0.02"/><rect x="424" y="382" width="2" height="18" fill="url(#bandh)" opacity="0.52"/><rect x="426" y="380" width="1" height="20" fill="url(#bandh)" opacity="0.09"/><rect x="427" y="388" width="2" height="12" fill="url(#bandh)" opacity="0.48"/><rect x="429" y="380" width="2" height="20" fill="url(#bandh)" opacity="0.43"/><rect x="431" y="382" width="1" height="18" fill="url(#bandh)" opacity="0.07"/><rect x="432" y="380" width="1" height="20" fill="url(#bandh)" opacity="0.37"/><rect x="433" y="385" width="1" height="15" fill="url(#bandh)" opacity="0.26"/><rect x="434" y="387" width="1" height="13" fill="url(#bandh)" opacity="0.46"/><rect x="435" y="388" width="1" height="12" fill="url(#bandh)" opacity="0.39"/><rect x="436" y="383" width="1" height="17" fill="url(#bandh)" opacity="0.23"/><rect x="437" y="387" width="1" height="13" fill="url(#bandh)" opacity="0.30"/><rect x="438" y="387" width="1" height="13" fill="url(#bandh)" opacity="0.19"/><rect x="439" y="380" width="1" height="20" fill="url(#bandh)" opacity="0.42"/><rect x="440" y="382" width="1" height="18" fill="url(#bandh)" opacity="0.29"/><rect x="441" y="388" width="1" height="12" fill="url(#bandh)" opacity="0.45"/><rect x="442" y="386" width="1" height="14" fill="url(#bandh)" opacity="0.00"/><rect x="443" y="388" width="1" height="12" fill="url(#bandh)" opacity="0.05"/><rect x="444" y="381" width="1" height="19" fill="url(#bandh)" opacity="0.28"/><rect x="445" y="383" width="1" height="17" fill="url(#bandh)" opacity="0.41"/><rect x="446" y="388" width="1" height="12" fill="url(#bandh)" opacity="0.15"/><rect x="447" y="381" width="1" height="19" fill="url(#bandh)" opacity="0.25"/><rect x="448" y="385" width="1" height="15" fill="url(#bandh)" opacity="0.22"/><rect x="449" y="386" width="1" height="14" fill="url(#bandh)" opacity="0.02"/><rect x="450" y="382" width="1" height="18" fill="url(#bandh)" opacity="0.44"/><rect x="451" y="383" width="2" height="17" fill="url(#bandh)" opacity="0.52"/><rect x="453" y="380" width="2" height="20" fill="url(#bandh)" opacity="0.23"/><rect x="455" y="383" width="1" height="17" fill="url(#bandh)" opacity="0.25"/><rect x="456" y="382" width="1" height="18" fill="url(#bandh)" opacity="0.48"/><rect x="457" y="383" width="2" height="17" fill="url(#bandh)" opacity="0.12"/><rect x="459" y="387" width="2" height="13" fill="url(#bandh)" opacity="0.46"/><rect x="461" y="382" width="2" height="18" fill="url(#bandh)" opacity="0.29"/><rect x="463" y="386" width="2" height="14" fill="url(#bandh)" opacity="0.12"/><rect x="465" y="384" width="2" height="16" fill="url(#bandh)" opacity="0.04"/><rect x="467" y="380" width="1" height="20" fill="url(#bandh)" opacity="0.57"/><rect x="468" y="388" width="1" height="12" fill="url(#bandh)" opacity="0.44"/><rect x="469" y="383" width="2" height="17" fill="url(#bandh)" opacity="0.34"/><rect x="471" y="380" width="1" height="20" fill="url(#bandh)" opacity="0.06"/><rect x="472" y="385" width="1" height="15" fill="url(#bandh)" opacity="0.44"/><rect x="473" y="381" width="1" height="19" fill="url(#bandh)" opacity="0.46"/><rect x="474" y="386" width="1" height="14" fill="url(#bandh)" opacity="0.60"/><rect x="475" y="386" width="2" height="14" fill="url(#bandh)" opacity="0.05"/><rect x="477" y="388" width="1" height="12" fill="url(#bandh)" opacity="0.15"/><rect x="478" y="383" width="1" height="17" fill="url(#bandh)" opacity="0.18"/><rect x="479" y="382" width="2" height="18" fill="url(#bandh)" opacity="0.02"/><rect x="481" y="384" width="1" height="16" fill="url(#bandh)" opacity="0.02"/><rect x="482" y="388" width="2" height="12" fill="url(#bandh)" opacity="0.25"/><rect x="484" y="388" width="1" height="12" fill="url(#bandh)" opacity="0.31"/><rect x="485" y="387" width="1" height="13" fill="url(#bandh)" opacity="0.19"/><rect x="486" y="383" width="2" height="17" fill="url(#bandh)" opacity="0.09"/><rect x="488" y="387" width="1" height="13" fill="url(#bandh)" opacity="0.32"/><rect x="489" y="388" width="2" height="12" fill="url(#bandh)" opacity="0.08"/><rect x="491" y="384" width="1" height="16" fill="url(#bandh)" opacity="0.14"/><rect x="492" y="383" width="1" height="17" fill="url(#bandh)" opacity="0.21"/><rect x="493" y="380" width="1" height="20" fill="url(#bandh)" opacity="0.02"/><rect x="494" y="384" width="2" height="16" fill="url(#bandh)" opacity="0.34"/><rect x="496" y="383" width="1" height="17" fill="url(#bandh)" opacity="0.55"/><rect x="497" y="385" width="1" height="15" fill="url(#bandh)" opacity="0.40"/><rect x="498" y="384" width="1" height="16" fill="url(#bandh)" opacity="0.47"/><rect x="499" y="381" width="1" height="19" fill="url(#bandh)" opacity="0.48"/><rect x="500" y="387" width="2" height="13" fill="url(#bandh)" opacity="0.30"/><rect x="502" y="384" width="2" height="16" fill="url(#bandh)" opacity="0.56"/><rect x="504" y="383" width="2" height="17" fill="url(#bandh)" opacity="0.42"/><rect x="506" y="383" width="1" height="17" fill="url(#bandh)" opacity="0.56"/><rect x="507" y="385" width="2" height="15" fill="url(#bandh)" opacity="0.46"/><rect x="509" y="385" width="1" height="15" fill="url(#bandh)" opacity="0.31"/><rect x="510" y="387" width="2" height="13" fill="url(#bandh)" opacity="0.48"/><rect x="512" y="388" width="1" height="12" fill="url(#bandh)" opacity="0.42"/><rect x="513" y="380" width="1" height="20" fill="url(#bandh)" opacity="0.42"/><rect x="514" y="381" width="2" height="19" fill="url(#bandh)" opacity="0.07"/><rect x="516" y="386" width="2" height="14" fill="url(#bandh)" opacity="0.16"/><rect x="518" y="384" width="2" height="16" fill="url(#bandh)" opacity="0.51"/><rect x="520" y="384" width="2" height="16" fill="url(#bandh)" opacity="0.43"/><rect x="522" y="385" width="1" height="15" fill="url(#bandh)" opacity="0.01"/><rect x="523" y="384" width="1" height="16" fill="url(#bandh)" opacity="0.54"/><rect x="524" y="382" width="1" height="18" fill="url(#bandh)" opacity="0.49"/><rect x="525" y="385" width="2" height="15" fill="url(#bandh)" opacity="0.23"/><rect x="527" y="383" width="1" height="17" fill="url(#bandh)" opacity="0.02"/><rect x="528" y="388" width="1" height="12" fill="url(#bandh)" opacity="0.38"/><rect x="529" y="381" width="2" height="19" fill="url(#bandh)" opacity="0.37"/><rect x="531" y="387" width="1" height="13" fill="url(#bandh)" opacity="0.04"/><rect x="532" y="386" width="2" height="14" fill="url(#bandh)" opacity="0.23"/><rect x="534" y="388" width="1" height="12" fill="url(#bandh)" opacity="0.48"/><rect x="535" y="385" width="1" height="15" fill="url(#bandh)" opacity="0.19"/><rect x="536" y="382" width="2" height="18" fill="url(#bandh)" opacity="0.59"/><rect x="538" y="384" width="1" height="16" fill="url(#bandh)" opacity="0.16"/><rect x="539" y="380" width="1" height="20" fill="url(#bandh)" opacity="0.14"/><rect x="540" y="388" width="2" height="12" fill="url(#bandh)" opacity="0.00"/><rect x="542" y="388" width="2" height="12" fill="url(#bandh)" opacity="0.51"/><rect x="544" y="388" width="1" height="12" fill="url(#bandh)" opacity="0.37"/><rect x="545" y="381" width="1" height="19" fill="url(#bandh)" opacity="0.16"/><rect x="546" y="383" width="1" height="17" fill="url(#bandh)" opacity="0.19"/><rect x="547" y="383" width="2" height="17" fill="url(#bandh)" opacity="0.41"/><rect x="549" y="387" width="1" height="13" fill="url(#bandh)" opacity="0.10"/><rect x="550" y="384" width="1" height="16" fill="url(#bandh)" opacity="0.22"/><rect x="551" y="388" width="1" height="12" fill="url(#bandh)" opacity="0.45"/><rect x="552" y="383" width="2" height="17" fill="url(#bandh)" opacity="0.14"/><rect x="554" y="382" width="1" height="18" fill="url(#bandh)" opacity="0.19"/><rect x="555" y="381" width="1" height="19" fill="url(#bandh)" opacity="0.53"/><rect x="556" y="384" width="1" height="16" fill="url(#bandh)" opacity="0.53"/><rect x="557" y="388" width="1" height="12" fill="url(#bandh)" opacity="0.51"/><rect x="558" y="386" width="2" height="14" fill="url(#bandh)" opacity="0.02"/><rect x="560" y="384" width="2" height="16" fill="url(#bandh)" opacity="0.03"/><rect x="562" y="386" width="2" height="14" fill="url(#bandh)" opacity="0.30"/><rect x="564" y="384" width="1" height="16" fill="url(#bandh)" opacity="0.43"/><rect x="565" y="385" width="1" height="15" fill="url(#bandh)" opacity="0.43"/><rect x="566" y="383" width="1" height="17" fill="url(#bandh)" opacity="0.20"/><rect x="567" y="386" width="1" height="14" fill="url(#bandh)" opacity="0.34"/><rect x="568" y="384" width="1" height="16" fill="url(#bandh)" opacity="0.37"/><rect x="569" y="386" width="1" height="14" fill="url(#bandh)" opacity="0.08"/><rect x="570" y="382" width="1" height="18" fill="url(#bandh)" opacity="0.14"/><rect x="571" y="382" width="1" height="18" fill="url(#bandh)" opacity="0.28"/><rect x="572" y="386" width="1" height="14" fill="url(#bandh)" opacity="0.41"/><rect x="573" y="386" width="1" height="14" fill="url(#bandh)" opacity="0.38"/><rect x="574" y="382" width="2" height="18" fill="url(#bandh)" opacity="0.56"/><rect x="576" y="381" width="1" height="19" fill="url(#bandh)" opacity="0.09"/><rect x="577" y="385" width="1" height="15" fill="url(#bandh)" opacity="0.12"/><rect x="578" y="380" width="1" height="20" fill="url(#bandh)" opacity="0.24"/><rect x="579" y="381" width="2" height="19" fill="url(#bandh)" opacity="0.10"/>
<rect x="593" y="338" width="12" height="142" fill="url(#cbg)"/>
</g>
<g fill="none" stroke="#000" stroke-width="1.15" stroke-linejoin="round">
<polyline points="120.15,134.20 121.15,134.20 121.44,138.85 123.02,138.85 123.45,154.35 125.17,154.35 125.89,138.85 127.32,138.85 127.75,154.35 129.18,154.35 129.76,138.85 130.62,138.85 131.62,129.55 134.92,129.55 135.63,134.20 140.22,134.20 141.23,145.05 142.09,145.05 143.52,154.35 144.52,154.35 145.24,138.85 146.39,138.85 146.96,149.70 148.11,149.70 148.82,138.85 153.56,138.85 154.70,149.70 157.86,149.70 159.29,138.85 160.44,114.05 161.44,114.05 162.44,103.20 163.59,103.20 164.59,123.35 167.46,123.35 168.47,134.20 169.33,134.20 169.61,149.70 171.33,149.70 172.19,145.05 173.63,145.05 174.20,134.20 175.35,134.20 175.92,123.35 178.93,123.35 179.94,154.35 181.08,154.35 181.80,160.55 188.25,160.55 189.68,154.35 192.27,154.35 192.84,160.55 193.99,160.55 194.70,154.35 196.14,154.35 196.85,165.20 197.15,165.20 198.15,165.20 198.87,160.55 203.17,160.55 203.89,154.35 204.89,154.35 206.75,149.70 207.47,149.70 208.62,160.55 211.05,160.55 212.06,154.35 213.20,154.35 214.06,160.55 218.94,160.55 219.66,154.35 226.11,154.35 227.54,123.35 228.69,123.35 229.69,134.20 231.13,138.85 231.84,138.85 233.56,154.35 234.42,154.35 235.43,134.20 238.29,134.20 239.01,138.85 239.73,138.85 241.16,129.55 242.16,129.55 243.03,149.70 244.03,149.70 244.75,145.05 246.18,145.05 246.90,134.20 247.90,134.20 248.76,138.85 249.62,138.85 250.48,134.20 251.63,134.20 252.63,145.05 255.50,145.05 256.22,134.20 257.36,134.20 258.37,118.70 259.37,118.70 260.52,138.85 261.23,138.85 262.24,123.35 263.38,123.35 264.53,138.85 265.10,138.85 265.96,149.70 266.97,149.70 267.68,154.35 269.12,154.35 269.84,145.05 271.27,145.05 271.99,154.35 273.13,154.35 273.71,149.70 274.57,149.70 275.72,165.20 276.58,165.20 277.58,160.55 282.32,160.55 283.75,149.70 284.75,149.70 285.76,154.35 286.62,149.70 288.05,149.70 289.48,160.55 290.06,160.55 290.92,154.35 291.92,154.35 292.64,160.55 299.52,160.55 300.52,154.35 305.54,154.35 306.97,160.55 308.41,154.35 309.56,154.35 310.56,149.70 313.43,149.70 314.43,134.20 315.58,134.20 315.86,114.05 317.30,114.05 317.73,134.20 319.59,134.20 319.88,118.70 322.46,118.70 323.89,129.55 324.47,129.55 325.90,98.55 326.76,98.55 328.19,123.35 328.77,123.35 329.91,107.85 331.06,107.85 332.06,114.05 332.78,114.05 333.50,107.85 334.22,107.85 335.94,129.55 336.80,123.35 338.23,123.35 338.80,129.55 339.95,129.55 340.67,138.85 344.25,138.85 344.97,145.05 345.97,145.05 347.12,160.55 347.84,160.55 348.55,145.05 349.70,145.05 350.70,129.55 351.71,129.55 352.57,134.20 353.43,134.20 354.58,154.35 357.45,154.35 358.45,129.55 359.46,129.55 360.60,138.85 361.75,138.85 362.75,145.05 363.47,154.35 365.19,154.35 365.62,138.85 367.05,138.85 367.77,145.05 368.92,145.05 369.49,138.85 372.07,138.85 373.51,129.55 374.65,129.55 375.66,145.05 378.09,145.05 379.96,154.35 381.39,149.70 382.82,154.35 384.26,149.70 386.12,145.05 388.13,145.05 388.99,154.35 389.99,154.35 390.42,138.85 391.86,138.85 392.86,134.20 394.29,134.20 394.72,145.05 395.73,145.05 396.44,129.55 397.88,129.55 399.03,145.05 401.46,145.05 402.90,149.70 403.90,149.70 406.48,138.85 407.20,138.85 408.63,154.35 409.35,154.35 410.78,160.55 411.50,160.55 412.22,149.70 415.08,149.70 415.80,145.05 417.23,145.05 417.95,149.70 419.10,149.70 420.10,154.35 421.10,149.70 422.25,149.70 423.68,160.55 424.83,154.35 425.41,154.35 427.99,154.35 429.42,134.20 430.85,134.20 431.15,138.85 432.01,138.85 433.58,114.05 437.89,114.05 438.60,118.70 440.04,118.70 440.32,103.20 442.62,103.20 443.19,114.05 444.34,123.35 445.05,129.55 446.06,123.35 447.20,123.35 448.64,114.05 449.35,114.05 450.79,134.20 453.66,134.20 455.09,123.35 456.52,114.05 457.24,114.05 458.67,118.70 459.39,123.35 463.26,123.35 464.12,145.05 465.56,149.70 467.99,149.70 469.43,145.05 470.86,138.85 472.29,138.85 473.73,129.55 474.44,129.55 475.88,145.05 477.31,149.70 478.03,149.70 479.46,138.85 481.90,138.85 482.76,149.70 483.76,149.70 484.48,134.20 485.91,134.20 486.63,149.70 487.35,149.70 488.06,145.05 489.93,145.05 490.50,160.55 491.65,160.55 492.80,165.20 493.80,160.55 495.23,160.55 496.24,149.70 498.82,149.70 500.25,160.55 500.97,160.55 502.40,149.70 503.41,149.70 504.55,165.20 505.27,165.20 505.99,160.55 508.85,160.55 509.43,160.55 509.72,145.05 513.45,145.05 513.73,160.55 515.17,160.55 515.89,154.35 518.32,154.35 519.47,134.20 520.62,134.20 521.62,138.85 523.48,145.05 524.49,145.05 525.92,160.55 528.36,160.55 529.51,149.70 530.22,149.70 531.66,154.35 532.66,145.05 535.96,145.05 536.96,154.35 541.69,154.35 542.70,138.85 543.84,138.85 544.99,149.70 546.71,154.35 548.14,134.20 549.58,134.20 550.72,149.70 553.59,149.70 554.59,145.05 555.60,145.05 556.75,149.70 557.46,138.85 558.90,138.85 559.61,134.20 561.33,134.20 561.76,103.20 563.20,103.20 563.91,118.70 565.06,118.70 566.06,134.20 568.22,138.85 569.65,145.05 571.08,154.35 581.00,154.35"/>
<polyline points="120.65,221.09 121.37,220.49 122.57,225.30 123.41,223.50 125.22,212.43 126.42,216.88 127.62,217.24 128.83,219.29 130.03,216.04 131.23,217.24 132.44,211.47 134.24,211.47 135.44,215.08 136.65,209.66 137.85,216.04 138.69,216.52 139.65,204.25 140.86,206.05 141.46,212.43 142.06,204.85 143.26,205.45 143.86,203.05 145.43,202.80 146.63,213.87 147.47,213.63 149.04,215.08 151.08,215.08 152.89,214.83 153.85,212.43 155.29,216.88 157.70,217.48 159.50,217.24 160.71,210.26 161.91,215.08 163.11,219.29 165.52,223.50 167.32,221.09 168.29,222.89 169.73,217.48 171.53,216.52 172.74,217.48 173.94,213.87 175.14,214.83 176.95,222.29 179.35,223.50 181.16,225.30 182.36,224.70 182.96,222.29 185.37,220.49 187.17,219.29 188.38,217.48 189.58,215.68 191.62,216.28 193.19,219.89 194.99,223.50 197.20,223.26 199.37,217.48 201.41,218.08 202.62,218.68 204.18,220.49 206.23,217.48 208.03,218.08 209.47,215.68 211.04,216.88 212.84,220.49 214.05,220.13 215.85,216.88 217.41,216.04 218.86,215.68 220.66,216.04 221.86,213.27 223.07,211.47 224.87,208.46 226.08,210.26 227.28,209.66 228.24,207.26 229.68,215.68 230.89,217.48 232.09,218.08 233.29,216.52 234.50,217.48 235.70,210.26 236.90,211.47 238.71,221.09 240.27,229.51 241.11,231.32 242.32,225.90 244.72,221.33 245.92,225.30 247.13,222.29 248.33,222.89 249.89,231.32 251.34,229.51 252.54,227.11 253.74,223.50 254.95,224.10 256.15,225.90 257.35,223.50 258.56,224.70 259.76,222.29 261.56,217.48 262.41,215.08 263.37,221.09 264.33,225.90 265.17,219.89 266.02,219.29 267.58,224.10 269.98,223.74 271.79,224.70 274.20,226.50 275.20,224.10 277.01,224.10 278.81,221.69 280.62,224.10 282.42,224.70 284.23,226.50 286.03,227.11 287.83,228.07 289.64,223.26 292.05,221.33 293.85,224.10 295.65,221.69 297.46,223.50 299.26,222.89 301.07,224.70 302.87,224.10 304.68,216.88 306.48,215.68 308.29,215.08 310.09,212.67 311.53,215.08 312.74,217.72 314.30,214.47 315.50,217.48 317.31,225.90 319.11,223.50 320.68,224.10 322.12,217.48 323.32,227.11 324.53,231.32 325.73,227.11 327.53,222.29 329.34,221.33 331.50,224.70 332.95,227.71 334.15,233.12 335.35,230.71 337.16,222.89 338.36,228.91 340.17,224.70 341.97,226.50 343.77,224.10 344.98,222.29 346.78,218.68 348.59,225.90 350.99,227.11 353.44,221.09 355.01,222.29 356.57,218.68 358.02,221.09 359.82,221.69 361.62,227.11 363.07,228.91 364.63,230.11 366.20,227.11 367.64,221.69 369.44,221.69 371.01,219.89 371.85,220.85 372.69,223.50 374.26,219.89 375.46,219.29 376.66,217.48 377.86,219.89 379.67,223.50 381.47,225.30 382.68,222.89 383.88,220.49 385.08,221.69 386.29,222.29 388.09,218.68 389.53,215.68 391.10,216.04 393.50,215.68 394.71,219.29 396.51,224.70 397.71,221.09 399.88,222.29 401.32,223.26 402.53,224.10 403.73,221.69 405.53,219.89 406.74,221.09 408.54,219.89 410.95,221.09 412.75,220.85 414.56,221.09 416.36,218.92 417.56,221.09 419.37,219.89 420.57,217.48 422.38,217.72 424.18,218.92 425.98,218.68 427.19,219.89 428.99,219.29 431.20,218.08 432.41,209.06 433.61,202.44 434.81,204.85 436.02,213.87 436.98,220.49 438.42,217.48 440.23,216.52 442.03,236.73 443.23,231.92 444.44,228.91 445.64,231.32 446.84,230.71 448.65,228.31 449.85,220.49 451.65,219.89 452.86,222.29 454.66,221.09 455.50,216.52 456.47,224.10 458.27,223.50 459.47,229.51 461.52,231.32 463.08,227.71 464.89,224.70 466.69,224.10 469.10,224.70 470.90,228.31 472.11,223.50 473.55,219.89 475.11,221.69 476.92,220.49 479.32,221.69 480.53,218.44 482.93,219.89 484.74,217.24 486.54,219.29 488.71,223.26 490.15,219.89 491.95,223.50 493.76,224.46 495.56,221.69 497.37,222.89 499.17,224.10 500.98,219.89 502.78,222.05 504.59,216.88 506.99,216.88 509.80,216.52 511.61,219.29 513.41,215.68 515.82,215.08 517.38,217.48 518.83,220.49 520.63,214.47 522.44,215.08 523.64,218.92 525.44,216.04 526.65,218.68 527.85,216.28 529.65,215.68 531.46,221.09 533.26,223.26 535.07,217.48 536.63,213.63 538.08,218.68 540.48,225.30 542.29,215.08 544.09,217.48 545.89,214.47 547.70,213.27 548.90,216.28 550.71,212.07 552.27,212.67 554.32,218.68 556.12,215.68 557.92,216.28 559.49,194.62 561.17,191.62 562.74,206.65 563.58,218.68 564.54,221.09 566.35,217.48 568.15,227.71 569.95,224.70 571.76,223.26 572.96,224.70 574.77,221.69 576.57,220.49 577.77,219.65 579.58,224.10 580.78,223.50 581.00,220.49"/>
</g>
<g stroke="#000" stroke-width="1" shape-rendering="crispEdges" fill="none">
<rect x="120.5" y="30.5" width="461" height="142" fill="none"/><line x1="120.5" y1="172.5" x2="120.5" y2="180.5"/><line x1="135.5" y1="172.5" x2="135.5" y2="176.5"/><line x1="150.5" y1="172.5" x2="150.5" y2="176.5"/><line x1="166.5" y1="172.5" x2="166.5" y2="176.5"/><line x1="181.5" y1="172.5" x2="181.5" y2="176.5"/><line x1="196.5" y1="172.5" x2="196.5" y2="176.5"/><line x1="212.5" y1="172.5" x2="212.5" y2="176.5"/><line x1="227.5" y1="172.5" x2="227.5" y2="176.5"/><line x1="242.5" y1="172.5" x2="242.5" y2="176.5"/><line x1="258.5" y1="172.5" x2="258.5" y2="176.5"/><line x1="273.5" y1="172.5" x2="273.5" y2="180.5"/><line x1="289.5" y1="172.5" x2="289.5" y2="176.5"/><line x1="304.5" y1="172.5" x2="304.5" y2="176.5"/><line x1="319.5" y1="172.5" x2="319.5" y2="176.5"/><line x1="335.5" y1="172.5" x2="335.5" y2="176.5"/><line x1="350.5" y1="172.5" x2="350.5" y2="176.5"/><line x1="365.5" y1="172.5" x2="365.5" y2="176.5"/><line x1="381.5" y1="172.5" x2="381.5" y2="176.5"/><line x1="396.5" y1="172.5" x2="396.5" y2="176.5"/><line x1="411.5" y1="172.5" x2="411.5" y2="176.5"/><line x1="427.5" y1="172.5" x2="427.5" y2="180.5"/><line x1="442.5" y1="172.5" x2="442.5" y2="176.5"/><line x1="458.5" y1="172.5" x2="458.5" y2="176.5"/><line x1="473.5" y1="172.5" x2="473.5" y2="176.5"/><line x1="488.5" y1="172.5" x2="488.5" y2="176.5"/><line x1="504.5" y1="172.5" x2="504.5" y2="176.5"/><line x1="519.5" y1="172.5" x2="519.5" y2="176.5"/><line x1="534.5" y1="172.5" x2="534.5" y2="176.5"/><line x1="550.5" y1="172.5" x2="550.5" y2="176.5"/><line x1="565.5" y1="172.5" x2="565.5" y2="176.5"/><line x1="581.5" y1="172.5" x2="581.5" y2="180.5"/><rect x="120.5" y="184.5" width="461" height="142" fill="none"/><line x1="120.5" y1="326.5" x2="120.5" y2="334.5"/><line x1="135.5" y1="326.5" x2="135.5" y2="330.5"/><line x1="150.5" y1="326.5" x2="150.5" y2="330.5"/><line x1="166.5" y1="326.5" x2="166.5" y2="330.5"/><line x1="181.5" y1="326.5" x2="181.5" y2="330.5"/><line x1="196.5" y1="326.5" x2="196.5" y2="330.5"/><line x1="212.5" y1="326.5" x2="212.5" y2="330.5"/><line x1="227.5" y1="326.5" x2="227.5" y2="330.5"/><line x1="242.5" y1="326.5" x2="242.5" y2="330.5"/><line x1="258.5" y1="326.5" x2="258.5" y2="330.5"/><line x1="273.5" y1="326.5" x2="273.5" y2="334.5"/><line x1="289.5" y1="326.5" x2="289.5" y2="330.5"/><line x1="304.5" y1="326.5" x2="304.5" y2="330.5"/><line x1="319.5" y1="326.5" x2="319.5" y2="330.5"/><line x1="335.5" y1="326.5" x2="335.5" y2="330.5"/><line x1="350.5" y1="326.5" x2="350.5" y2="330.5"/><line x1="365.5" y1="326.5" x2="365.5" y2="330.5"/><line x1="381.5" y1="326.5" x2="381.5" y2="330.5"/><line x1="396.5" y1="326.5" x2="396.5" y2="330.5"/><line x1="411.5" y1="326.5" x2="411.5" y2="330.5"/><line x1="427.5" y1="326.5" x2="427.5" y2="334.5"/><line x1="442.5" y1="326.5" x2="442.5" y2="330.5"/><line x1="458.5" y1="326.5" x2="458.5" y2="330.5"/><line x1="473.5" y1="326.5" x2="473.5" y2="330.5"/><line x1="488.5" y1="326.5" x2="488.5" y2="330.5"/><line x1="504.5" y1="326.5" x2="504.5" y2="330.5"/><line x1="519.5" y1="326.5" x2="519.5" y2="330.5"/><line x1="534.5" y1="326.5" x2="534.5" y2="330.5"/><line x1="550.5" y1="326.5" x2="550.5" y2="330.5"/><line x1="565.5" y1="326.5" x2="565.5" y2="330.5"/><line x1="581.5" y1="326.5" x2="581.5" y2="334.5"/><rect x="120.5" y="338.5" width="461" height="142" fill="none"/><line x1="120.5" y1="480.5" x2="120.5" y2="488.5"/><line x1="135.5" y1="480.5" x2="135.5" y2="484.5"/><line x1="150.5" y1="480.5" x2="150.5" y2="484.5"/><line x1="166.5" y1="480.5" x2="166.5" y2="484.5"/><line x1="181.5" y1="480.5" x2="181.5" y2="484.5"/><line x1="196.5" y1="480.5" x2="196.5" y2="484.5"/><line x1="212.5" y1="480.5" x2="212.5" y2="484.5"/><line x1="227.5" y1="480.5" x2="227.5" y2="484.5"/><line x1="242.5" y1="480.5" x2="242.5" y2="484.5"/><line x1="258.5" y1="480.5" x2="258.5" y2="484.5"/><line x1="273.5" y1="480.5" x2="273.5" y2="488.5"/><line x1="289.5" y1="480.5" x2="289.5" y2="484.5"/><line x1="304.5" y1="480.5" x2="304.5" y2="484.5"/><line x1="319.5" y1="480.5" x2="319.5" y2="484.5"/><line x1="335.5" y1="480.5" x2="335.5" y2="484.5"/><line x1="350.5" y1="480.5" x2="350.5" y2="484.5"/><line x1="365.5" y1="480.5" x2="365.5" y2="484.5"/><line x1="381.5" y1="480.5" x2="381.5" y2="484.5"/><line x1="396.5" y1="480.5" x2="396.5" y2="484.5"/><line x1="411.5" y1="480.5" x2="411.5" y2="484.5"/><line x1="427.5" y1="480.5" x2="427.5" y2="488.5"/><line x1="442.5" y1="480.5" x2="442.5" y2="484.5"/><line x1="458.5" y1="480.5" x2="458.5" y2="484.5"/><line x1="473.5" y1="480.5" x2="473.5" y2="484.5"/><line x1="488.5" y1="480.5" x2="488.5" y2="484.5"/><line x1="504.5" y1="480.5" x2="504.5" y2="484.5"/><line x1="519.5" y1="480.5" x2="519.5" y2="484.5"/><line x1="534.5" y1="480.5" x2="534.5" y2="484.5"/><line x1="550.5" y1="480.5" x2="550.5" y2="484.5"/><line x1="565.5" y1="480.5" x2="565.5" y2="484.5"/><line x1="581.5" y1="480.5" x2="581.5" y2="488.5"/><line x1="112" y1="165.5" x2="120" y2="165.5"/><line x1="116" y1="149.5" x2="120" y2="149.5"/><line x1="112" y1="134.5" x2="120" y2="134.5"/><line x1="116" y1="118.5" x2="120" y2="118.5"/><line x1="112" y1="103.5" x2="120" y2="103.5"/><line x1="116" y1="87.5" x2="120" y2="87.5"/><line x1="112" y1="72.5" x2="120" y2="72.5"/><line x1="116" y1="56.5" x2="120" y2="56.5"/><line x1="112" y1="41.5" x2="120" y2="41.5"/><line x1="112" y1="322.5" x2="120" y2="322.5"/><line x1="116" y1="315.5" x2="120" y2="315.5"/><line x1="116" y1="308.5" x2="120" y2="308.5"/><line x1="116" y1="301.5" x2="120" y2="301.5"/><line x1="116" y1="294.5" x2="120" y2="294.5"/><line x1="112" y1="287.5" x2="120" y2="287.5"/><line x1="116" y1="280.5" x2="120" y2="280.5"/><line x1="116" y1="273.5" x2="120" y2="273.5"/><line x1="116" y1="266.5" x2="120" y2="266.5"/><line x1="116" y1="259.5" x2="120" y2="259.5"/><line x1="112" y1="252.5" x2="120" y2="252.5"/><line x1="116" y1="245.5" x2="120" y2="245.5"/><line x1="116" y1="238.5" x2="120" y2="238.5"/><line x1="116" y1="231.5" x2="120" y2="231.5"/><line x1="116" y1="224.5" x2="120" y2="224.5"/><line x1="112" y1="217.5" x2="120" y2="217.5"/><line x1="116" y1="210.5" x2="120" y2="210.5"/><line x1="116" y1="203.5" x2="120" y2="203.5"/><line x1="116" y1="196.5" x2="120" y2="196.5"/><line x1="116" y1="189.5" x2="120" y2="189.5"/><line x1="116" y1="479.5" x2="120" y2="479.5"/><line x1="116" y1="477.5" x2="120" y2="477.5"/><line x1="116" y1="475.5" x2="120" y2="475.5"/><line x1="112" y1="473.5" x2="120" y2="473.5"/><line x1="116" y1="471.5" x2="120" y2="471.5"/><line x1="116" y1="469.5" x2="120" y2="469.5"/><line x1="116" y1="467.5" x2="120" y2="467.5"/><line x1="116" y1="466.5" x2="120" y2="466.5"/><line x1="116" y1="464.5" x2="120" y2="464.5"/><line x1="116" y1="462.5" x2="120" y2="462.5"/><line x1="116" y1="460.5" x2="120" y2="460.5"/><line x1="116" y1="458.5" x2="120" y2="458.5"/><line x1="116" y1="456.5" x2="120" y2="456.5"/><line x1="112" y1="455.5" x2="120" y2="455.5"/><line x1="116" y1="453.5" x2="120" y2="453.5"/><line x1="116" y1="451.5" x2="120" y2="451.5"/><line x1="116" y1="449.5" x2="120" y2="449.5"/><line x1="116" y1="447.5" x2="120" y2="447.5"/><line x1="116" y1="445.5" x2="120" y2="445.5"/><line x1="116" y1="443.5" x2="120" y2="443.5"/><line x1="116" y1="442.5" x2="120" y2="442.5"/><line x1="116" y1="440.5" x2="120" y2="440.5"/><line x1="116" y1="438.5" x2="120" y2="438.5"/><line x1="112" y1="436.5" x2="120" y2="436.5"/><line x1="116" y1="434.5" x2="120" y2="434.5"/><line x1="116" y1="432.5" x2="120" y2="432.5"/><line x1="116" y1="431.5" x2="120" y2="431.5"/><line x1="116" y1="429.5" x2="120" y2="429.5"/><line x1="116" y1="427.5" x2="120" y2="427.5"/><line x1="116" y1="425.5" x2="120" y2="425.5"/><line x1="116" y1="423.5" x2="120" y2="423.5"/><line x1="116" y1="421.5" x2="120" y2="421.5"/><line x1="116" y1="420.5" x2="120" y2="420.5"/><line x1="112" y1="418.5" x2="120" y2="418.5"/><line x1="116" y1="416.5" x2="120" y2="416.5"/><line x1="116" y1="414.5" x2="120" y2="414.5"/><line x1="116" y1="412.5" x2="120" y2="412.5"/><line x1="116" y1="410.5" x2="120" y2="410.5"/><line x1="116" y1="408.5" x2="120" y2="408.5"/><line x1="116" y1="407.5" x2="120" y2="407.5"/><line x1="116" y1="405.5" x2="120" y2="405.5"/><line x1="116" y1="403.5" x2="120" y2="403.5"/><line x1="116" y1="401.5" x2="120" y2="401.5"/><line x1="112" y1="399.5" x2="120" y2="399.5"/><line x1="116" y1="397.5" x2="120" y2="397.5"/><line x1="116" y1="396.5" x2="120" y2="396.5"/><line x1="116" y1="394.5" x2="120" y2="394.5"/><line x1="116" y1="392.5" x2="120" y2="392.5"/><line x1="116" y1="390.5" x2="120" y2="390.5"/><line x1="116" y1="388.5" x2="120" y2="388.5"/><line x1="116" y1="386.5" x2="120" y2="386.5"/><line x1="116" y1="385.5" x2="120" y2="385.5"/><line x1="116" y1="383.5" x2="120" y2="383.5"/><line x1="112" y1="381.5" x2="120" y2="381.5"/><line x1="116" y1="379.5" x2="120" y2="379.5"/><line x1="116" y1="377.5" x2="120" y2="377.5"/><line x1="116" y1="375.5" x2="120" y2="375.5"/><line x1="116" y1="373.5" x2="120" y2="373.5"/><line x1="116" y1="372.5" x2="120" y2="372.5"/><line x1="116" y1="370.5" x2="120" y2="370.5"/><line x1="116" y1="368.5" x2="120" y2="368.5"/><line x1="116" y1="366.5" x2="120" y2="366.5"/><line x1="116" y1="364.5" x2="120" y2="364.5"/><line x1="112" y1="362.5" x2="120" y2="362.5"/><line x1="116" y1="361.5" x2="120" y2="361.5"/><line x1="116" y1="359.5" x2="120" y2="359.5"/><line x1="116" y1="357.5" x2="120" y2="357.5"/><line x1="116" y1="355.5" x2="120" y2="355.5"/><line x1="116" y1="353.5" x2="120" y2="353.5"/><line x1="116" y1="351.5" x2="120" y2="351.5"/><line x1="116" y1="349.5" x2="120" y2="349.5"/><line x1="116" y1="348.5" x2="120" y2="348.5"/><line x1="116" y1="346.5" x2="120" y2="346.5"/><line x1="112" y1="344.5" x2="120" y2="344.5"/><line x1="116" y1="342.5" x2="120" y2="342.5"/><line x1="116" y1="340.5" x2="120" y2="340.5"/><line x1="116" y1="338.5" x2="120" y2="338.5"/><line x1="605.5" y1="338" x2="605.5" y2="481"/><line x1="593" y1="480.5" x2="606" y2="480.5"/><line x1="606" y1="479.5" x2="610" y2="479.5"/><line x1="606" y1="476.5" x2="610" y2="476.5"/><line x1="606" y1="474.5" x2="610" y2="474.5"/><line x1="606" y1="471.5" x2="610" y2="471.5"/><line x1="606" y1="470.5" x2="610" y2="470.5"/><line x1="606" y1="468.5" x2="610" y2="468.5"/><line x1="606" y1="467.5" x2="614" y2="467.5"/><line x1="606" y1="457.5" x2="610" y2="457.5"/><line x1="606" y1="451.5" x2="610" y2="451.5"/><line x1="606" y1="447.5" x2="610" y2="447.5"/><line x1="606" y1="444.5" x2="610" y2="444.5"/><line x1="606" y1="441.5" x2="610" y2="441.5"/><line x1="606" y1="439.5" x2="610" y2="439.5"/><line x1="606" y1="437.5" x2="610" y2="437.5"/><line x1="606" y1="436.5" x2="610" y2="436.5"/><line x1="606" y1="434.5" x2="614" y2="434.5"/><line x1="606" y1="425.5" x2="610" y2="425.5"/><line x1="606" y1="419.5" x2="610" y2="419.5"/><line x1="606" y1="415.5" x2="610" y2="415.5"/><line x1="606" y1="412.5" x2="610" y2="412.5"/><line x1="606" y1="409.5" x2="610" y2="409.5"/><line x1="606" y1="407.5" x2="610" y2="407.5"/><line x1="606" y1="405.5" x2="610" y2="405.5"/><line x1="606" y1="404.5" x2="610" y2="404.5"/><line x1="606" y1="402.5" x2="614" y2="402.5"/><line x1="606" y1="392.5" x2="610" y2="392.5"/><line x1="606" y1="387.5" x2="610" y2="387.5"/><line x1="606" y1="383.5" x2="610" y2="383.5"/><line x1="606" y1="380.5" x2="610" y2="380.5"/><line x1="606" y1="377.5" x2="610" y2="377.5"/><line x1="606" y1="375.5" x2="610" y2="375.5"/><line x1="606" y1="373.5" x2="610" y2="373.5"/><line x1="606" y1="371.5" x2="610" y2="371.5"/><line x1="606" y1="370.5" x2="614" y2="370.5"/><line x1="606" y1="360.5" x2="610" y2="360.5"/><line x1="606" y1="355.5" x2="610" y2="355.5"/><line x1="606" y1="351.5" x2="610" y2="351.5"/><line x1="606" y1="347.5" x2="610" y2="347.5"/><line x1="606" y1="345.5" x2="610" y2="345.5"/><line x1="606" y1="343.5" x2="610" y2="343.5"/><line x1="606" y1="341.5" x2="610" y2="341.5"/><line x1="606" y1="339.5" x2="610" y2="339.5"/><line x1="606" y1="338.5" x2="614" y2="338.5"/>
</g>
<g font-family="Liberation Sans, sans-serif" font-size="12" fill="#000">
<text x="107.6" y="169.8" text-anchor="end" textLength="7.63" lengthAdjust="spacingAndGlyphs">0</text><text x="107.6" y="138.8" text-anchor="end" textLength="15.26" lengthAdjust="spacingAndGlyphs">20</text><text x="107.6" y="107.8" text-anchor="end" textLength="15.26" lengthAdjust="spacingAndGlyphs">40</text><text x="107.6" y="76.8" text-anchor="end" textLength="15.26" lengthAdjust="spacingAndGlyphs">60</text><text x="107.6" y="45.8" text-anchor="end" textLength="15.26" lengthAdjust="spacingAndGlyphs">80</text><text x="107.6" y="221.8" text-anchor="end" textLength="7.63" lengthAdjust="spacingAndGlyphs">0</text><text x="107.6" y="256.8" text-anchor="end" textLength="19.59" lengthAdjust="spacingAndGlyphs">-50</text><text x="107.6" y="291.8" text-anchor="end" textLength="27.22" lengthAdjust="spacingAndGlyphs">-100</text><text x="107.6" y="326.8" text-anchor="end" textLength="27.22" lengthAdjust="spacingAndGlyphs">-150</text><text x="107.6" y="477.8" text-anchor="end" textLength="11.96" lengthAdjust="spacingAndGlyphs">-1</text><text x="107.6" y="459.8" text-anchor="end" textLength="7.63" lengthAdjust="spacingAndGlyphs">0</text><text x="107.6" y="440.8" text-anchor="end" textLength="7.63" lengthAdjust="spacingAndGlyphs">1</text><text x="107.6" y="422.8" text-anchor="end" textLength="7.63" lengthAdjust="spacingAndGlyphs">2</text><text x="107.6" y="403.8" text-anchor="end" textLength="7.63" lengthAdjust="spacingAndGlyphs">3</text><text x="107.6" y="385.8" text-anchor="end" textLength="7.63" lengthAdjust="spacingAndGlyphs">4</text><text x="107.6" y="366.8" text-anchor="end" textLength="7.63" lengthAdjust="spacingAndGlyphs">5</text><text x="107.6" y="348.8" text-anchor="end" textLength="7.63" lengthAdjust="spacingAndGlyphs">6</text><text x="119.5" y="504.2" text-anchor="middle" textLength="70.90" lengthAdjust="spacingAndGlyphs">2007-06-01</text><text x="272.5" y="504.2" text-anchor="middle" textLength="70.90" lengthAdjust="spacingAndGlyphs">2007-06-11</text><text x="426.5" y="504.2" text-anchor="middle" textLength="70.90" lengthAdjust="spacingAndGlyphs">2007-06-21</text><text x="580.5" y="504.2" text-anchor="middle" textLength="70.90" lengthAdjust="spacingAndGlyphs">2007-07-01</text><text x="616.8" y="345.8" textLength="15.27" lengthAdjust="spacingAndGlyphs">10</text><text x="632.8" y="339.8" textLength="7.63" lengthAdjust="spacingAndGlyphs">3</text><text x="616.8" y="377.8" textLength="15.27" lengthAdjust="spacingAndGlyphs">10</text><text x="632.8" y="371.8" textLength="7.63" lengthAdjust="spacingAndGlyphs">2</text><text x="616.8" y="409.8" textLength="15.27" lengthAdjust="spacingAndGlyphs">10</text><text x="632.8" y="403.8" textLength="7.63" lengthAdjust="spacingAndGlyphs">1</text><text x="616.8" y="441.8" textLength="15.27" lengthAdjust="spacingAndGlyphs">10</text><text x="632.8" y="435.8" textLength="7.63" lengthAdjust="spacingAndGlyphs">0</text><text x="616.8" y="474.8" textLength="15.27" lengthAdjust="spacingAndGlyphs">10</text><text x="632.8" y="468.8" textLength="11.96" lengthAdjust="spacingAndGlyphs">-1</text><text transform="translate(47.3,101.7) rotate(-90)" x="0" y="0" text-anchor="middle" textLength="14.1" lengthAdjust="spacingAndGlyphs">Kp</text><text transform="translate(59.3,103.5) rotate(-90)" x="0" y="0" text-anchor="middle" textLength="87.9" lengthAdjust="spacingAndGlyphs">(e.g. 3+ = 33,</text><text transform="translate(71.0,104.8) rotate(-90)" x="0" y="0" text-anchor="middle" textLength="49.3" lengthAdjust="spacingAndGlyphs">6- = 57,</text><text transform="translate(82.5,103.0) rotate(-90)" x="0" y="0" text-anchor="middle" textLength="78.2" lengthAdjust="spacingAndGlyphs">4 = 40, etc.)</text><text transform="translate(71.3,254.5) rotate(-90)" x="0" y="0" text-anchor="middle" textLength="24.2" lengthAdjust="spacingAndGlyphs">DST</text><text transform="translate(87.6,408.8) rotate(-90)" x="0" y="0" text-anchor="middle" textLength="70.5" lengthAdjust="spacingAndGlyphs">Proton Flux</text>
</g>
</svg>
</body></html>
